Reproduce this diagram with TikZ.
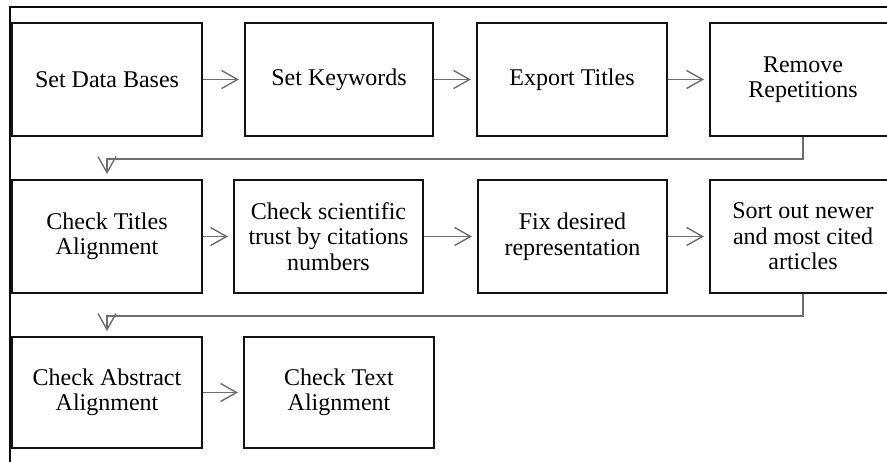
\documentclass[tikz,border=0pt]{standalone}
\usepackage{fontspec}
\setmainfont{Liberation Serif}
\usetikzlibrary{arrows.meta,calc}
\definecolor{frame}{HTML}{0A0A0A}
\definecolor{edge}{HTML}{121212}
\definecolor{link}{HTML}{6E6E6E}
\tikzset{
  stepbox/.style={draw=edge, line width=2pt, minimum width=190pt, minimum height=113pt,
    inner sep=2pt, align=center, font=\fontsize{24}{25.5}\selectfont},
  flow/.style={-{Straight Barb[length=16pt,width=18pt]}, draw=link, line width=1.4pt, shorten >=5pt},
  outline/.style={draw=frame, line width=2.4pt}
}

\begin{document}
\begin{tikzpicture}[x=1pt,y=-1pt]
  \useasboundingbox[fill=white] (0,0) rectangle (887,462);
  \draw[outline] (10,462) -- (10,7) -- (887,7);
  % first row
  \node[stepbox] (b1) at (107,79.5) {Set Data Bases};
  \node[stepbox, minimum width=188pt] (b2) at (339,79.5) {Set Keywords};
  \node[stepbox] (b3) at (572,79.5) {Export Titles};
  \node[stepbox, minimum width=186pt] (b4) at (803,79.5) {Remove\\Repetitions};
  % second row
  \node[stepbox] (c1) at (107,236.5) {Check Titles\\Alignment};
  \node[stepbox, minimum width=189pt] (c2) at (328.5,236.5) {Check scientific\\trust by citations\\numbers};
  \node[stepbox, minimum width=189pt] (c3) at (572.5,236.5) {Fix desired\\representation};
  \node[stepbox, minimum width=186pt] (c4) at (803,236.5) {Sort out newer\\and most cited\\articles};
  % third row
  \node[stepbox, minimum height=111pt] (d1) at (107,392.5) {Check Abstract\\Alignment};
  \node[stepbox, minimum height=111pt] (d2) at (339,392.5) {Check Text\\Alignment};
  \draw[flow] (b1.east) -- (b2.west);
  \draw[flow] (b2.east) -- (b3.west);
  \draw[flow] (b3.east) -- (b4.west);
  \draw[flow] (b4.south) -- ++(0,22) -| (c1.north);
  \draw[flow] (c1.east) -- (c2.west);
  \draw[flow] (c2.east) -- (c3.west);
  \draw[flow] (c3.east) -- (c4.west);
  \draw[flow] (c4.south) -- ++(0,22) -| (d1.north);
  \draw[flow] (d1.east) -- (d2.west);
\end{tikzpicture}
\end{document}
